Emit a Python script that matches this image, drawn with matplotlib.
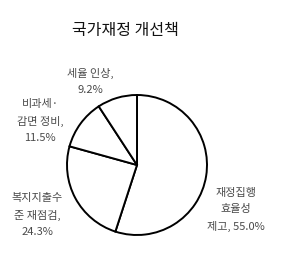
import matplotlib
matplotlib.use("Agg")
import matplotlib.pyplot as plt

plt.rcParams['font.family'] = ['Noto Sans CJK KR', 'DejaVu Sans']

title = "국가재정 개선책"
labels = ["재정집행\n효율성\n제고, 55.0%", "복지지출수\n준 재점검,\n24.3%",
          "비과세·\n감면 정비,\n11.5%", "세율 인상,\n9.2%"]
values = [55.0, 24.3, 11.5, 9.2]

W, H = 281, 259
fig = plt.figure(figsize=(W / 100, H / 100), dpi=100)
ax = fig.add_axes([0, 0, 1, 1])
ax.set_xlim(0, W)
ax.set_ylim(0, H)
ax.set_aspect('equal')
ax.axis('off')

ax.pie(values, center=(137, H - 165), radius=70, startangle=90, counterclock=False,
       colors=['white'] * 4, wedgeprops=dict(edgecolor='black', linewidth=1.4))
ax.set_xlim(0, W)
ax.set_ylim(0, H)

label_pos = [(236, 210), (37, 215), (40, 121), (90, 81)]
for lab, (x, y) in zip(labels, label_pos):
    ax.text(x, H - y, lab, ha='center', va='center', fontsize=8,
            color='#4a4a4a', linespacing=1.75)

ax.text(125, H - 31, title, ha='center', va='center', fontsize=11.5,
        color='#111111', fontweight='medium')

fig.savefig("out.png", dpi=100)
